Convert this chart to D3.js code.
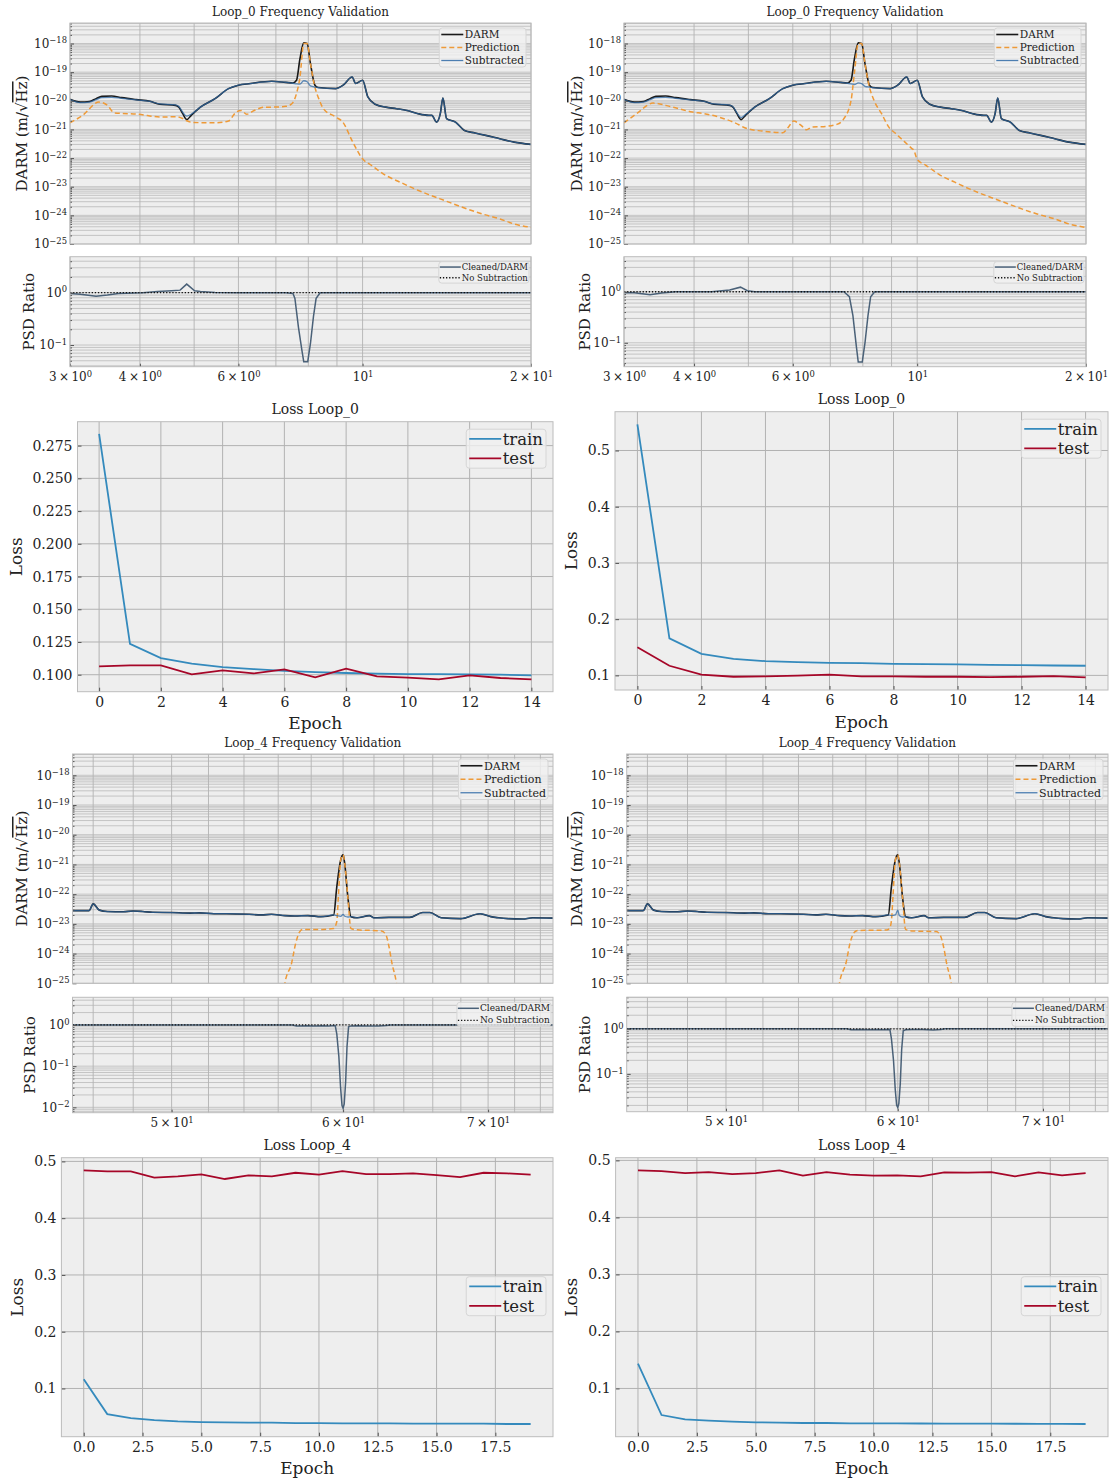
<!DOCTYPE html>
<html>
<head>
<meta charset="utf-8">
<script src="https://cdnjs.cloudflare.com/ajax/libs/d3/7.8.5/d3.min.js"></script>
<style>
body { margin: 0; background: #fff; }
svg text { font-family: "DejaVu Serif", serif; fill: #222; }
</style>
</head>
<body>
<div id="main"></div>
<script>
var ctx = {
    w: 1112,
    h: 1481,
    vDomain: [0.9999e-25, 5.2e-18],
    bg: "#eeeeee", grid: "#b2b2b2", edge: "#bcbcbc",
    cDarm: "#1a1a1a", cPred: "#ee9a38", cSub: "#2f6aa6", cRatio: "#4a6178",
    cTrain: "#348ABD", cTest: "#A60628"
};

// ---- labels ----
var freqLegend = ["DARM", "Prediction", "Subtracted"];
var ratioLegend = ["Cleaned/DARM", "No Subtraction"];
var lossLegend = ["train", "test"];

// ---- tick values ----
var freqMajors = [1e-25, 1e-24, 1e-23, 1e-22, 1e-21, 1e-20, 1e-19, 1e-18];
var l0_fTicks = [3, 4, 6, 10, 20];
var l4_fTicks = [50, 60, 70];
var l0a_lossTicks = [0.100, 0.125, 0.150, 0.175, 0.200, 0.225, 0.250, 0.275];
var lossTicks = [0.1, 0.2, 0.3, 0.4, 0.5];
var l0_epochTicks = [0, 2, 4, 6, 8, 10, 12, 14];
var l4_epochTicks = [0, 2.5, 5, 7.5, 10, 12.5, 15, 17.5];

// ---- Loop_0 spectra [Hz, m/rtHz] ----
var l0_darm = [[3.00,1.13e-20],[3.13,9.0e-21],[3.25,9.4e-21],[3.34,1.19e-20],[3.42,1.43e-20],[3.56,1.47e-20],[3.71,1.29e-20],[3.94,1.1e-20],[4.17,9.6e-21],[4.34,7.6e-21],[4.63,6.9e-21],[4.70,5.8e-21],[4.77,3.55e-21],[4.85,2.2e-21],[4.94,3.1e-21],[5.13,6e-21],[5.45,1.19e-20],[5.76,2.66e-20],[6.00,3.5e-20],[6.30,4e-20],[6.88,4.8e-20],[7.29,4.4e-20],[7.51,4.2e-20],[7.62,5.2e-20],[7.73,3e-19],[7.85,1.05e-18],[7.96,1e-18],[8.07,2e-19],[8.22,3.5e-20],[8.33,2.9e-20],[8.96,2.66e-20],[9.23,3.5e-20],[9.58,6.8e-20],[9.72,4e-20],[10.0,5.2e-20],[10.22,1.36e-20],[10.53,7.6e-21],[11.0,6e-21],[11.5,5.3e-21],[12.0,4.6e-21],[12.56,3.55e-21],[13.13,3.1e-21],[13.3,3.1e-21],[13.56,1.8e-21],[13.77,3.55e-21],[13.92,1.25e-20],[14.13,2.37e-21],[14.66,1.8e-21],[15.21,9.2e-22],[15.89,7.5e-22],[16.6,6.2e-22],[17.6,4.7e-22],[18.66,3.6e-22],[20.0,3e-22]];
var l0a_sub = [[3.00,1.1e-20],[3.13,8.6e-21],[3.25,9.0e-21],[3.34,1.1e-20],[3.42,1.3e-20],[3.56,1.32e-20],[3.71,1.22e-20],[3.94,1.07e-20],[4.17,9.6e-21],[4.34,7.8e-21],[4.63,7.2e-21],[4.70,6.2e-21],[4.77,4.0e-21],[4.85,2.9e-21],[4.94,3.4e-21],[5.13,6e-21],[5.45,1.19e-20],[5.76,2.66e-20],[6.00,3.5e-20],[6.30,4e-20],[6.88,4.8e-20],[7.29,4.4e-20],[7.51,4.1e-20],[7.62,3.9e-20],[7.73,3.8e-20],[7.85,5.0e-20],[7.96,4.6e-20],[8.07,3.3e-20],[8.22,3.0e-20],[8.33,2.9e-20],[8.96,2.66e-20],[9.23,3.5e-20],[9.58,6.8e-20],[9.72,4e-20],[10.0,5.2e-20],[10.22,1.36e-20],[10.53,7.6e-21],[11.0,6e-21],[11.5,5.3e-21],[12.0,4.6e-21],[12.56,3.55e-21],[13.13,3.1e-21],[13.3,3.1e-21],[13.56,1.8e-21],[13.77,3.55e-21],[13.92,1.25e-20],[14.13,2.37e-21],[14.66,1.8e-21],[15.21,9.2e-22],[15.89,7.5e-22],[16.6,6.2e-22],[17.6,4.7e-22],[18.66,3.6e-22],[20.0,3e-22]];
var l0b_sub = [[3.00,1.1e-20],[3.13,8.6e-21],[3.25,9.0e-21],[3.34,1.1e-20],[3.42,1.3e-20],[3.56,1.32e-20],[3.71,1.22e-20],[3.94,1.07e-20],[4.17,9.6e-21],[4.34,7.8e-21],[4.63,7.1e-21],[4.70,6.0e-21],[4.77,3.8e-21],[4.85,2.6e-21],[4.94,3.3e-21],[5.13,6e-21],[5.45,1.19e-20],[5.76,2.66e-20],[6.00,3.5e-20],[6.30,4e-20],[6.88,4.8e-20],[7.29,4.4e-20],[7.51,4.1e-20],[7.62,3.9e-20],[7.73,3.7e-20],[7.85,4.2e-20],[7.96,4.0e-20],[8.07,3.2e-20],[8.22,3.0e-20],[8.33,2.9e-20],[8.96,2.66e-20],[9.23,3.5e-20],[9.58,6.8e-20],[9.72,4e-20],[10.0,5.2e-20],[10.22,1.36e-20],[10.53,7.6e-21],[11.0,6e-21],[11.5,5.3e-21],[12.0,4.6e-21],[12.56,3.55e-21],[13.13,3.1e-21],[13.3,3.1e-21],[13.56,1.8e-21],[13.77,3.55e-21],[13.92,1.25e-20],[14.13,2.37e-21],[14.66,1.8e-21],[15.21,9.2e-22],[15.89,7.5e-22],[16.6,6.2e-22],[17.6,4.7e-22],[18.66,3.6e-22],[20.0,3e-22]];
var l0a_pred = [[3.00,1.7e-21],[3.16,3.1e-21],[3.38,9.0e-21],[3.50,6.9e-21],[3.60,3.8e-21],[3.97,3.4e-21],[4.37,2.7e-21],[4.63,2.8e-21],[4.77,2.4e-21],[4.85,2.0e-21],[4.98,1.75e-21],[5.45,1.7e-21],[5.76,1.96e-21],[5.94,4.0e-21],[6.07,4.6e-21],[6.21,3.4e-21],[6.40,4.6e-21],[6.69,6.0e-21],[6.88,6.0e-21],[7.29,6.4e-21],[7.46,7.6e-21],[7.62,1.8e-20],[7.73,6.8e-20],[7.85,1.0e-18],[7.96,1.0e-18],[8.07,2.0e-19],[8.19,4.0e-20],[8.38,1.0e-20],[8.51,5.3e-21],[8.96,2.7e-21],[9.23,1.75e-21],[9.58,4.0e-22],[10.0,9.4e-23],[10.38,5.5e-23],[11.0,2.5e-23],[11.67,1.44e-23],[12.39,8.4e-24],[13.13,5.3e-24],[14.13,3.1e-24],[15.21,1.8e-24],[16.36,1.12e-24],[17.6,7.5e-25],[18.66,5.0e-25],[20.0,3.8e-25]];
var l0b_pred = [[3.00,1.7e-21],[3.16,3.55e-21],[3.38,8.3e-21],[3.66,6.0e-21],[3.97,4.05e-21],[4.17,3.55e-21],[4.43,2.7e-21],[4.70,1.8e-21],[4.98,1.06e-21],[5.29,8.8e-22],[5.76,7.7e-22],[5.89,1.2e-21],[6.02,1.96e-21],[6.21,1.38e-21],[6.35,9.7e-22],[6.49,1.2e-21],[6.88,1.28e-21],[7.19,1.5e-21],[7.40,2.37e-21],[7.62,1.0e-20],[7.73,1.0e-19],[7.85,1.0e-18],[7.96,1.0e-18],[8.07,2.0e-19],[8.19,4.0e-20],[8.38,1.0e-20],[8.64,3.55e-21],[8.90,1.2e-21],[9.16,7.1e-22],[9.51,3.6e-22],[9.80,2.1e-22],[9.86,1.9e-22],[10.0,9.0e-23],[10.38,5.5e-23],[11.0,2.5e-23],[11.67,1.44e-23],[12.39,8.4e-24],[13.13,5.3e-24],[14.13,3.1e-24],[15.21,1.8e-24],[16.36,1.12e-24],[17.6,7.5e-25],[18.66,5.0e-25],[20.0,3.8e-25]];
var l0a_ratio = [[3.00,0.97],[3.13,0.93],[3.34,0.86],[3.50,0.90],[3.66,0.97],[4.05,1.0],[4.30,1.05],[4.56,1.09],[4.72,1.12],[4.85,1.46],[5.01,1.09],[5.13,1.05],[5.45,1.01],[5.94,1.0],[7.29,1.0],[7.51,0.97],[7.57,0.78],[7.68,0.22],[7.79,0.08],[7.85,0.048],[7.98,0.048],[8.07,0.107],[8.17,0.35],[8.26,0.78],[8.40,1.0],[20.0,1.0]];
var l0b_ratio = [[3.00,0.96],[3.13,0.96],[3.34,0.87],[3.50,0.94],[3.71,1.0],[4.30,1.0],[4.63,1.08],[4.84,1.23],[4.98,1.05],[5.13,1.0],[7.40,1.0],[7.57,0.8],[7.68,0.34],[7.79,0.084],[7.85,0.042],[7.98,0.042],[8.07,0.10],[8.17,0.34],[8.26,0.8],[8.40,1.0],[20.0,1.0]];
var l0_noSub = [[3, 1], [20, 1]];

// ---- Loop_4 spectra [Hz, m/rtHz] ----
var l4_darm = [[45.0,2.8e-23],[45.8,2.8e-23],[46.0,4.7e-23],[46.3,2.9e-23],[46.7,2.6e-23],[47.5,2.55e-23],[48.0,2.7e-23],[48.5,2.6e-23],[49.0,2.45e-23],[50.0,2.4e-23],[51.0,2.3e-23],[51.5,2.35e-23],[52.3,2.2e-23],[53.0,2.2e-23],[54.3,2.1e-23],[55.0,2.0e-23],[55.6,2.1e-23],[56.4,1.9e-23],[57.0,1.85e-23],[57.8,1.9e-23],[58.6,1.75e-23],[59.4,2.0e-23],[59.6,1.8e-22],[59.85,1.44e-21],[60.0,2.1e-21],[60.1,1.1e-21],[60.3,8.3e-23],[60.5,1.75e-23],[60.9,1.6e-23],[61.7,1.9e-23],[62.0,1.6e-23],[63.0,1.65e-23],[64.4,1.65e-23],[65.3,2.4e-23],[65.8,2.4e-23],[66.6,1.6e-23],[68.0,1.5e-23],[69.4,2.2e-23],[69.8,2.0e-23],[70.2,1.75e-23],[70.8,1.6e-23],[71.5,1.5e-23],[72.6,1.45e-23],[73.4,1.6e-23],[75.0,1.56e-23]];
var l4a_sub = [[45.0,2.8e-23],[45.8,2.8e-23],[46.0,4.7e-23],[46.3,2.9e-23],[46.7,2.6e-23],[47.5,2.55e-23],[48.0,2.7e-23],[48.5,2.6e-23],[49.0,2.45e-23],[50.0,2.4e-23],[51.0,2.3e-23],[51.5,2.35e-23],[52.3,2.2e-23],[53.0,2.2e-23],[54.3,2.1e-23],[55.0,2.0e-23],[55.6,2.1e-23],[56.4,1.9e-23],[57.0,1.85e-23],[57.8,1.9e-23],[58.6,1.75e-23],[59.4,2.0e-23],[59.6,1.9e-23],[59.85,1.8e-23],[60.0,2.1e-23],[60.1,1.8e-23],[60.3,1.7e-23],[60.5,1.75e-23],[60.9,1.6e-23],[61.7,1.9e-23],[62.0,1.6e-23],[63.0,1.65e-23],[64.4,1.65e-23],[65.3,2.4e-23],[65.8,2.4e-23],[66.6,1.6e-23],[68.0,1.5e-23],[69.4,2.2e-23],[69.8,2.0e-23],[70.2,1.75e-23],[70.8,1.6e-23],[71.5,1.5e-23],[72.6,1.45e-23],[73.4,1.6e-23],[75.0,1.56e-23]];
var l4b_sub = [[45.0,2.8e-23],[45.8,2.8e-23],[46.0,4.7e-23],[46.3,2.9e-23],[46.7,2.6e-23],[47.5,2.55e-23],[48.0,2.7e-23],[48.5,2.6e-23],[49.0,2.45e-23],[50.0,2.4e-23],[51.0,2.3e-23],[51.5,2.35e-23],[52.3,2.2e-23],[53.0,2.2e-23],[54.3,2.1e-23],[55.0,2.0e-23],[55.6,2.1e-23],[56.4,1.9e-23],[57.0,1.85e-23],[57.8,1.9e-23],[58.6,1.75e-23],[59.4,2.0e-23],[59.6,1.9e-23],[59.85,2.0e-23],[60.0,2.9e-23],[60.1,1.9e-23],[60.3,1.7e-23],[60.5,1.75e-23],[60.9,1.6e-23],[61.7,1.9e-23],[62.0,1.6e-23],[63.0,1.65e-23],[64.4,1.65e-23],[65.3,2.4e-23],[65.8,2.4e-23],[66.6,1.6e-23],[68.0,1.5e-23],[69.4,2.2e-23],[69.8,2.0e-23],[70.2,1.75e-23],[70.8,1.6e-23],[71.5,1.5e-23],[72.6,1.45e-23],[73.4,1.6e-23],[75.0,1.56e-23]];
var l4a_pred = [[56.0,1e-27],[56.4,1.0e-25],[56.8,4.7e-25],[57.05,2.2e-24],[57.3,5.5e-24],[57.5,6.5e-24],[58.7,6.5e-24],[59.4,7.0e-24],[59.6,1.2e-23],[59.7,8.5e-23],[59.85,1.44e-21],[60.0,2.1e-21],[60.1,1.1e-21],[60.3,8.3e-23],[60.5,7.0e-24],[60.9,6.3e-24],[62.5,5.8e-24],[62.8,4.2e-24],[63.0,1.7e-24],[63.2,4.7e-25],[63.5,1.0e-25],[63.9,1e-27]];
var l4b_pred = [[56.0,1e-27],[56.4,1.0e-25],[56.8,5.0e-25],[57.05,2.4e-24],[57.3,5.2e-24],[57.5,6.0e-24],[59.3,6.2e-24],[59.5,7.5e-24],[59.6,1.3e-23],[59.7,9.0e-23],[59.85,1.44e-21],[60.0,2.1e-21],[60.1,1.1e-21],[60.3,8.3e-23],[60.5,6.5e-24],[60.9,5.8e-24],[62.5,5.5e-24],[62.8,3.8e-24],[63.0,1.6e-24],[63.2,4.5e-25],[63.5,1.0e-25],[63.9,1e-27]];
var l4a_ratio = [[45.0,1.0],[56.85,1.0],[57.1,0.95],[57.75,0.96],[58.2,0.94],[58.7,0.96],[59.1,0.95],[59.5,0.97],[59.6,0.6],[59.73,0.17],[59.84,0.03],[59.93,0.011],[60.0,0.0095],[60.07,0.012],[60.16,0.04],[60.25,0.3],[60.35,0.9],[60.5,0.95],[60.9,0.96],[61.6,0.95],[62.3,0.94],[62.8,0.97],[63.1,1.0],[75.0,1.0]];
var l4b_ratio = [[45.0,1.0],[56.85,1.0],[57.1,0.95],[57.75,0.96],[58.2,0.95],[58.7,0.96],[59.1,0.95],[59.5,0.97],[59.6,0.6],[59.73,0.2],[59.84,0.045],[59.93,0.02],[60.0,0.018],[60.07,0.022],[60.16,0.06],[60.25,0.35],[60.35,0.9],[60.5,0.95],[60.9,0.96],[61.6,0.96],[62.3,0.94],[62.8,0.97],[63.1,1.0],[75.0,1.0]];
var l4_noSub = [[45, 1], [75, 1]];

// ---- losses ----
var l0_epochs = [0,1,2,3,4,5,6,7,8,9,10,11,12,13,14];
var l0a_train = [0.2839,0.1236,0.1127,0.1084,0.1058,0.1043,0.1030,0.1020,0.1013,0.1008,0.1005,0.1004,0.1003,0.1000,0.0995];
var l0a_test  = [0.1063,0.1071,0.1071,0.1003,0.1033,0.1010,0.1041,0.0980,0.1046,0.0987,0.0977,0.0964,0.0995,0.0975,0.0964];
var l0b_train = [0.5465,0.1659,0.1382,0.1294,0.1253,0.1235,0.1224,0.1218,0.1206,0.1200,0.1194,0.1188,0.1182,0.1176,0.1171];
var l0b_test  = [0.1500,0.1171,0.1012,0.0976,0.0982,0.0994,0.1012,0.0982,0.0982,0.0976,0.0976,0.0970,0.0976,0.0988,0.0965];
var l4_epochs = [0,1,2,3,4,5,6,7,8,9,10,11,12,13,14,15,16,17,18,19];
var l4a_train = [0.1164,0.0549,0.0479,0.0444,0.0420,0.0408,0.0402,0.0397,0.0397,0.0391,0.0391,0.0385,0.0385,0.0385,0.0380,0.0380,0.0380,0.0380,0.0374,0.0374];
var l4a_test  = [0.4842,0.4824,0.4824,0.4713,0.4736,0.4772,0.4690,0.4754,0.4736,0.4800,0.4766,0.4830,0.4777,0.4777,0.4789,0.4760,0.4725,0.4800,0.4789,0.4766];
var l4b_train = [0.1437,0.0534,0.0458,0.0434,0.0417,0.0405,0.0400,0.0394,0.0394,0.0388,0.0388,0.0386,0.0385,0.0384,0.0383,0.0382,0.0381,0.0380,0.0378,0.0376];
var l4b_test  = [0.4825,0.4813,0.4778,0.4796,0.4761,0.4778,0.4825,0.4732,0.4796,0.4749,0.4732,0.4738,0.4720,0.4790,0.4784,0.4796,0.4720,0.4790,0.4738,0.4778];

var isMajor = function(v) {
    var l = Math.log10(v);
    return Math.abs(l - Math.round(l)) < 1e-6;
};

// "m × 10^e" style label with a raised exponent
var supLabel = function(sel, v, fs) {
    var e = Math.round(Math.log10(v) - 0.4999999);
    if (isMajor(v)) e = Math.round(Math.log10(v));
    var m = Math.round(v / Math.pow(10, e));
    sel.text(null);
    sel.append("tspan").text((m === 1 ? "" : m + "\u2009×\u2009") + "10");
    sel.append("tspan").attr("dy", "-0.55em").attr("font-size", fs * 0.7)
        .text(e < 0 ? "−" + (-e) : String(e));
};

var styleAxis = function(sel, fs) {
    sel.attr("font-family", null).attr("font-size", fs);
    sel.select(".domain").remove();
    sel.selectAll(".tick line").attr("stroke", "#555");
    sel.selectAll(".tick text").attr("fill", "#222");
};

var addClip = function(svg, id, x0, y0, x1, y1) {
    svg.select("defs").append("clipPath").attr("id", id).append("rect")
        .attr("x", x0).attr("y", y0).attr("width", x1 - x0).attr("height", y1 - y0);
};

var box = function(g, x0, y0, x1, y1, fill, stroke) {
    return g.append("rect").attr("x", x0).attr("y", y0)
        .attr("width", x1 - x0).attr("height", y1 - y0)
        .attr("fill", fill).attr("stroke", stroke || "none");
};

var hGrid = function(g, y, vals, x0, x1, w) {
    g.append("g").selectAll("line").data(vals).join("line")
        .attr("x1", x0).attr("x2", x1)
        .attr("y1", d => y(d)).attr("y2", d => y(d))
        .attr("stroke", ctx.grid).attr("stroke-width", w);
};
var vGrid = function(g, x, vals, y0, y1, w) {
    g.append("g").selectAll("line").data(vals).join("line")
        .attr("y1", y0).attr("y2", y1)
        .attr("x1", d => x(d)).attr("x2", d => x(d))
        .attr("stroke", ctx.grid).attr("stroke-width", w);
};

var drawLegend = function(g, items, o) {
    var lg = g.append("g");
    var bg = lg.append("rect");
    var tw = 0;
    items.forEach(function(it, i) {
        var cy = o.row * (i + 0.5);
        lg.append("line").attr("x1", o.padX).attr("x2", o.padX + o.len)
            .attr("y1", cy).attr("y2", cy)
            .attr("stroke", it.color).attr("stroke-width", it.w)
            .attr("stroke-opacity", it.op || 1)
            .attr("stroke-dasharray", it.dash || null);
        var t = lg.append("text").attr("x", o.padX + o.len + o.gap).attr("y", cy)
            .attr("dy", "0.35em").attr("font-size", o.fs).text(it.label);
        tw = Math.max(tw, t.node().getComputedTextLength());
    });
    var bw = o.padX * 2 + o.len + o.gap + tw, bh = o.row * items.length;
    bg.attr("width", bw).attr("height", bh).attr("rx", 3)
        .attr("fill", "#f0f0f0").attr("fill-opacity", 0.8).attr("stroke", "#d6d6d6");
    var top = o.cy !== undefined ? o.cy - bh / 2 : o.top;
    lg.attr("transform", "translate(" + (o.right - bw) + "," + top + ")");
};

var drawFreq = function(svg, p, k) {
    var x = d3.scaleLog().domain(p.fDomain).range([p.x0, p.x1]);
    var y = d3.scaleLog().domain(ctx.vDomain).range([p.yB, p.yT]);
    var yr = d3.scaleLog().domain(p.rDomain).range([p.rB, p.rT]);
    var g = svg.append("g");

    g.append("text").attr("x", (p.x0 + p.x1) / 2).attr("y", p.titleY)
        .attr("text-anchor", "middle").attr("font-size", 12).text(p.title);

    // ---- spectrum panel ----
    var yMinor = y.ticks().filter(d => !isMajor(d));
    box(g, p.x0, p.yT, p.x1, p.yB, ctx.bg);
    hGrid(g, y, yMinor.concat(freqMajors), p.x0, p.x1, 0.7);
    vGrid(g, x, x.ticks(), p.yT, p.yB, 0.9);
    addClip(svg, "fc" + k, p.x0, p.yT, p.x1, p.yB);
    var lines = g.append("g").attr("clip-path", "url(#fc" + k + ")");
    var ln = d3.line().x(d => x(d[0])).y(d => y(d[1])).curve(d3.curveMonotoneX);
    lines.append("path").attr("d", ln(p.darm)).attr("fill", "none")
        .attr("stroke", ctx.cDarm).attr("stroke-width", 1.6);
    lines.append("path").attr("d", ln(p.pred)).attr("fill", "none")
        .attr("stroke", ctx.cPred).attr("stroke-width", 1.5).attr("stroke-dasharray", "5,3");
    lines.append("path").attr("d", ln(p.sub)).attr("fill", "none")
        .attr("stroke", ctx.cSub).attr("stroke-width", 1.3).attr("stroke-opacity", 0.75);

    g.append("g").attr("transform", "translate(" + p.x0 + ",0)")
        .call(d3.axisLeft(y).tickValues(yMinor).tickSizeInner(-2).tickSizeOuter(0).tickFormat(""))
        .call(styleAxis, 12);
    g.append("g").attr("transform", "translate(" + p.x0 + ",0)")
        .call(d3.axisLeft(y).tickValues(freqMajors).tickSizeInner(-4).tickSizeOuter(0).tickPadding(3))
        .call(styleAxis, 12)
        .selectAll(".tick text").each(function(d) { supLabel(d3.select(this), d, 12); });
    box(g, p.x0, p.yT, p.x1, p.yB, "none", ctx.edge);

    var lab = g.append("text")
        .attr("transform", "translate(" + p.yLabX + "," + (p.yT + p.yB) / 2 + ") rotate(-90)")
        .attr("text-anchor", "middle").attr("dominant-baseline", "central").attr("font-size", 15);
    lab.append("tspan").text("DARM (m/√");
    lab.append("tspan").style("text-decoration", "overline").text("Hz");
    lab.append("tspan").text(")");

    drawLegend(g, [
        { label: freqLegend[0], color: ctx.cDarm, w: 1.6 },
        { label: freqLegend[1], color: ctx.cPred, w: 1.5, dash: "5,3" },
        { label: freqLegend[2], color: ctx.cSub, w: 1.3, op: 0.85 }
    ], { right: p.x1 - 5, top: p.yT + 5, row: p.legRow, fs: p.legFs, padX: 2, len: 22, gap: 1.5 });

    // ---- ratio panel ----
    box(g, p.x0, p.rT, p.x1, p.rB, ctx.bg);
    hGrid(g, yr, yr.ticks(), p.x0, p.x1, 0.7);
    vGrid(g, x, x.ticks(), p.rT, p.rB, 0.9);
    addClip(svg, "rc" + k, p.x0, p.rT, p.x1, p.rB);
    var rl = g.append("g").attr("clip-path", "url(#rc" + k + ")");
    var lr = d3.line().x(d => x(d[0])).y(d => yr(d[1]));
    rl.append("path").attr("d", lr(p.ratio)).attr("fill", "none")
        .attr("stroke", ctx.cRatio).attr("stroke-width", 1.5);
    rl.append("path").attr("d", lr(p.noSub)).attr("fill", "none")
        .attr("stroke", "#111").attr("stroke-width", 1.3).attr("stroke-dasharray", "1.3,1.8");

    var rt = yr.ticks();
    g.append("g").attr("transform", "translate(" + p.x0 + ",0)")
        .call(d3.axisLeft(yr).tickValues(rt.filter(d => !isMajor(d))).tickSizeInner(-2).tickSizeOuter(0).tickFormat(""))
        .call(styleAxis, 12);
    g.append("g").attr("transform", "translate(" + p.x0 + ",0)")
        .call(d3.axisLeft(yr).tickValues(rt.filter(isMajor)).tickSizeInner(-4).tickSizeOuter(0).tickPadding(3))
        .call(styleAxis, 12)
        .selectAll(".tick text").each(function(d) { supLabel(d3.select(this), d, 12); });
    g.append("g").attr("transform", "translate(0," + p.rB + ")")
        .call(d3.axisBottom(x).tickValues(p.fTicks).tickSizeInner(-3).tickSizeOuter(0).tickPadding(6))
        .call(styleAxis, 12)
        .selectAll(".tick text").each(function(d) { supLabel(d3.select(this), d, 12); });
    box(g, p.x0, p.rT, p.x1, p.rB, "none", ctx.edge);

    g.append("text")
        .attr("transform", "translate(" + p.rLabX + "," + (p.rT + p.rB) / 2 + ") rotate(-90)")
        .attr("text-anchor", "middle").attr("dominant-baseline", "central").attr("font-size", 15)
        .text("PSD Ratio");

    drawLegend(g, [
        { label: ratioLegend[0], color: ctx.cRatio, w: 1.5 },
        { label: ratioLegend[1], color: "#111", w: 1.3, dash: "1.3,1.8" }
    ], { right: p.x1 - 2, top: p.rT + 5, row: p.rlegRow, fs: p.rlegFs, padX: 1, len: 21, gap: 1 });
};

var drawLoss = function(svg, p) {
    var ye = d3.extent(p.train.concat(p.test)), ypad = (ye[1] - ye[0]) * 0.05;
    var xe = d3.extent(p.epochs), xpad = (xe[1] - xe[0]) * 0.05;
    var x = d3.scaleLinear().domain([xe[0] - xpad, xe[1] + xpad]).range([p.x0, p.x1]);
    var y = d3.scaleLinear().domain([ye[0] - ypad, ye[1] + ypad]).range([p.yB, p.yT]);
    var g = svg.append("g");

    g.append("text").attr("x", (p.x0 + p.x1) / 2).attr("y", p.titleY)
        .attr("text-anchor", "middle").attr("font-size", 14).text(p.title);

    box(g, p.x0, p.yT, p.x1, p.yB, ctx.bg);
    hGrid(g, y, p.yTicks, p.x0, p.x1, 1);
    vGrid(g, x, p.xTicks, p.yT, p.yB, 1);

    var ln = d3.line().x((d, i) => x(p.epochs[i])).y(d => y(d));
    g.append("path").attr("d", ln(p.train)).attr("fill", "none")
        .attr("stroke", ctx.cTrain).attr("stroke-width", 1.8);
    g.append("path").attr("d", ln(p.test)).attr("fill", "none")
        .attr("stroke", ctx.cTest).attr("stroke-width", 1.8);

    g.append("g").attr("transform", "translate(" + p.x0 + ",0)")
        .call(d3.axisLeft(y).tickValues(p.yTicks).tickFormat(d3.format(p.yFmt))
            .tickSizeInner(-4).tickSizeOuter(0).tickPadding(5))
        .call(styleAxis, 14);
    g.append("g").attr("transform", "translate(0," + p.yB + ")")
        .call(d3.axisBottom(x).tickValues(p.xTicks).tickFormat(d3.format(p.xFmt))
            .tickSizeInner(-4).tickSizeOuter(0).tickPadding(5))
        .call(styleAxis, 14);
    box(g, p.x0, p.yT, p.x1, p.yB, "none", ctx.edge);

    g.append("text").attr("x", (p.x0 + p.x1) / 2).attr("y", p.yB + 37.5)
        .attr("text-anchor", "middle").attr("font-size", 17).text("Epoch");
    g.append("text")
        .attr("transform", "translate(" + p.yLabX + "," + (p.yT + p.yB) / 2 + ") rotate(-90)")
        .attr("text-anchor", "middle").attr("dominant-baseline", "central").attr("font-size", 17)
        .text("Loss");

    var lo = { right: p.x1 - 7, row: 19.5, fs: 16.5, padX: 3, len: 32, gap: 1.5 };
    if (p.legCenter) lo.cy = (p.yT + p.yB) / 2 - 1; else lo.top = p.yT + 7.5;
    drawLegend(g, [
        { label: lossLegend[0], color: ctx.cTrain, w: 1.8 },
        { label: lossLegend[1], color: ctx.cTest, w: 1.8 }
    ], lo);
};

var createViz = function() {
    var svg = d3.select("#main").append("svg")
        .attr("width", ctx.w).attr("height", ctx.h);
    svg.append("defs");
    svg.append("rect").attr("width", ctx.w).attr("height", ctx.h).attr("fill", "#fff");

    var freqPanels = [
        { title: "Loop_0 Frequency Validation", x0: 70, x1: 531, yT: 23, yB: 244, rT: 256.7, rB: 366.7, titleY: 16,
          fDomain: [3, 20], fTicks: l0_fTicks, rDomain: [0.0385, 4.88],
          darm: l0_darm, pred: l0a_pred, sub: l0a_sub, ratio: l0a_ratio, noSub: l0_noSub,
          yLabX: 22, rLabX: 29, legRow: 13, legFs: 10.5, rlegRow: 10.7, rlegFs: 8.5 },
        { title: "Loop_0 Frequency Validation", x0: 624, x1: 1086, yT: 23, yB: 244, rT: 256.7, rB: 366.7, titleY: 16,
          fDomain: [3, 20], fTicks: l0_fTicks, rDomain: [0.034, 4.86],
          darm: l0_darm, pred: l0b_pred, sub: l0b_sub, ratio: l0b_ratio, noSub: l0_noSub,
          yLabX: 577, rLabX: 584.5, legRow: 13, legFs: 10.5, rlegRow: 10.7, rlegFs: 8.5 },
        { title: "Loop_4 Frequency Validation", x0: 72.5, x1: 553, yT: 754, yB: 983.3, rT: 997.3, rB: 1112.7, titleY: 747,
          fDomain: [45, 75], fTicks: l4_fTicks, rDomain: [0.0074, 4.7],
          darm: l4_darm, pred: l4a_pred, sub: l4a_sub, ratio: l4a_ratio, noSub: l4_noSub,
          yLabX: 22, rLabX: 29.5, legRow: 13.5, legFs: 11, rlegRow: 12, rlegFs: 9 },
        { title: "Loop_4 Frequency Validation", x0: 626.7, x1: 1108, yT: 754, yB: 983.3, rT: 997.3, rB: 1111.7, titleY: 747,
          fDomain: [45, 75], fTicks: l4_fTicks, rDomain: [0.0145, 5.0],
          darm: l4_darm, pred: l4b_pred, sub: l4b_sub, ratio: l4b_ratio, noSub: l4_noSub,
          yLabX: 577, rLabX: 584.5, legRow: 13.5, legFs: 11, rlegRow: 12, rlegFs: 9 }
    ];
    var lossPanels = [
        { title: "Loss Loop_0", x0: 77.5, x1: 553, yT: 421.7, yB: 691.7, titleY: 414,
          epochs: l0_epochs, train: l0a_train, test: l0a_test, xTicks: l0_epochTicks, yTicks: l0a_lossTicks,
          xFmt: "d", yFmt: ".3f", yLabX: 16, legCenter: false },
        { title: "Loss Loop_0", x0: 615, x1: 1108, yT: 411.7, yB: 690, titleY: 404,
          epochs: l0_epochs, train: l0b_train, test: l0b_test, xTicks: l0_epochTicks, yTicks: lossTicks,
          xFmt: "d", yFmt: ".1f", yLabX: 571, legCenter: false },
        { title: "Loss Loop_4", x0: 61.4, x1: 553, yT: 1157.7, yB: 1436.7, titleY: 1150,
          epochs: l4_epochs, train: l4a_train, test: l4a_test, xTicks: l4_epochTicks, yTicks: lossTicks,
          xFmt: ".1f", yFmt: ".1f", yLabX: 17, legCenter: true },
        { title: "Loss Loop_4", x0: 615.6, x1: 1108, yT: 1157.7, yB: 1436.7, titleY: 1150,
          epochs: l4_epochs, train: l4b_train, test: l4b_test, xTicks: l4_epochTicks, yTicks: lossTicks,
          xFmt: ".1f", yFmt: ".1f", yLabX: 571, legCenter: true }
    ];

    freqPanels.forEach(function(p, i) { drawFreq(svg, p, i); });
    lossPanels.forEach(function(p) { drawLoss(svg, p); });
};

createViz();
</script>
</body>
</html>
